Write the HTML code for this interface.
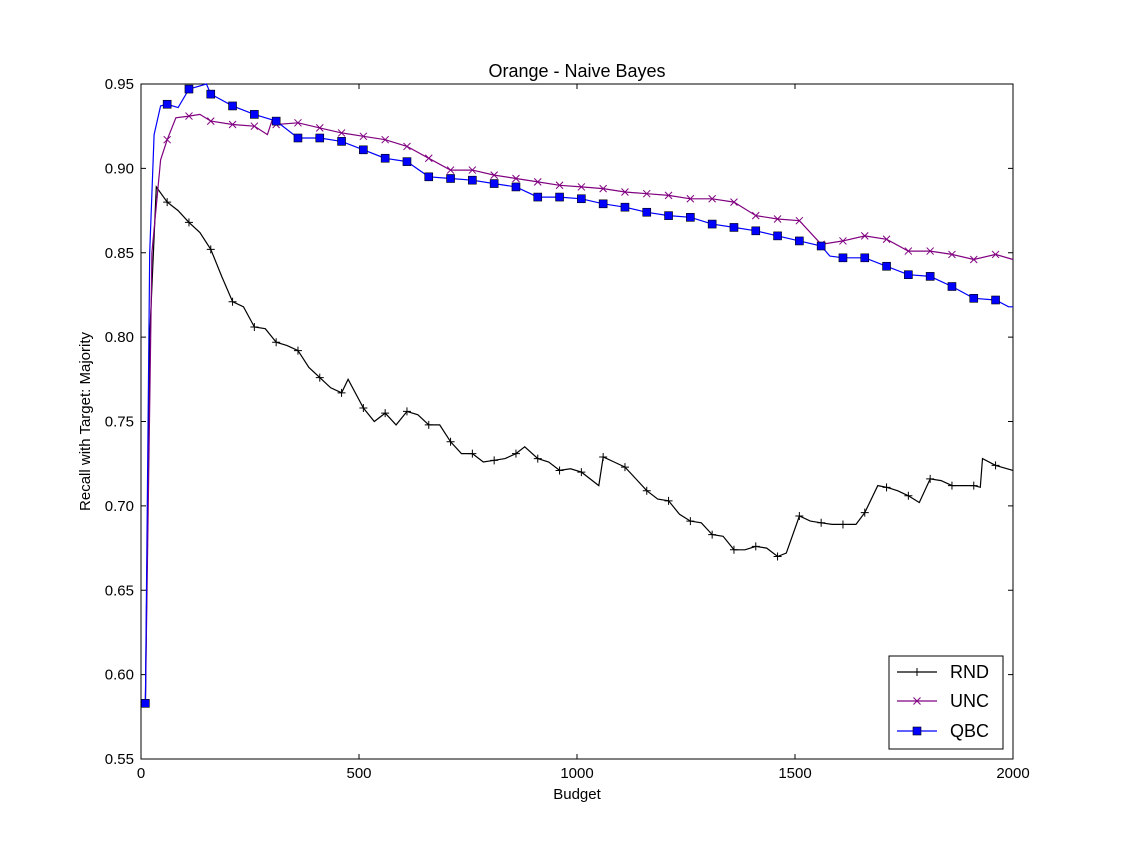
<!DOCTYPE html>
<html><head><meta charset="utf-8"><style>body{margin:0;background:#fff}svg{display:block;font-family:"Liberation Sans","DejaVu Sans",sans-serif}</style></head>
<body>
<svg id="chart" width="1125" height="843">
<rect width="1125" height="843" fill="#fff"/>
<g id="plot"></g>
</svg>
<script>
const xTicks=[0,500,1000,1500,2000];
const yTicks=[0.55,0.60,0.65,0.70,0.75,0.80,0.85,0.90,0.95];
const rndX=[10,20,35,60,85,110,135,160,185,210,235,260,285,310,335,360,385,410,435,460,475,510,535,560,585,610,635,660,685,710,735,760,785,810,835,860,880,910,935,960,985,1010,1050,1060,1085,1110,1135,1160,1185,1210,1235,1260,1285,1310,1335,1360,1385,1410,1435,1460,1480,1510,1535,1560,1585,1610,1640,1660,1690,1710,1735,1760,1785,1810,1835,1860,1885,1910,1925,1930,1960,2000];
const rndY=[0.583,0.80,0.889,0.880,0.875,0.868,0.862,0.852,0.836,0.821,0.818,0.806,0.805,0.797,0.795,0.792,0.782,0.776,0.770,0.767,0.775,0.758,0.750,0.755,0.748,0.756,0.754,0.748,0.748,0.738,0.731,0.731,0.726,0.727,0.728,0.731,0.735,0.728,0.726,0.721,0.722,0.720,0.712,0.729,0.726,0.723,0.716,0.709,0.704,0.703,0.695,0.691,0.690,0.683,0.682,0.674,0.674,0.676,0.675,0.670,0.672,0.694,0.691,0.690,0.689,0.689,0.689,0.696,0.712,0.711,0.709,0.706,0.702,0.716,0.715,0.712,0.712,0.712,0.711,0.728,0.724,0.721];
const uncX=[10,25,45,60,80,110,135,160,210,260,290,300,310,360,410,460,510,560,610,660,710,760,810,860,910,960,1010,1060,1110,1160,1210,1260,1310,1360,1410,1460,1510,1560,1610,1660,1710,1760,1810,1860,1910,1960,2000];
const uncY=[0.583,0.85,0.905,0.917,0.930,0.931,0.932,0.928,0.926,0.925,0.920,0.928,0.926,0.927,0.924,0.921,0.919,0.917,0.913,0.906,0.899,0.899,0.896,0.894,0.892,0.890,0.889,0.888,0.886,0.885,0.884,0.882,0.882,0.880,0.872,0.870,0.869,0.855,0.857,0.860,0.858,0.851,0.851,0.849,0.846,0.849,0.846];
const qbcX=[10,20,30,45,60,85,110,150,160,210,260,310,360,410,460,510,560,610,660,710,760,810,860,910,960,1010,1060,1110,1160,1210,1260,1310,1360,1410,1460,1510,1560,1580,1610,1660,1710,1760,1810,1860,1910,1960,1990,2000];
const qbcY=[0.583,0.85,0.92,0.937,0.938,0.936,0.947,0.950,0.944,0.937,0.932,0.928,0.918,0.918,0.916,0.911,0.906,0.904,0.895,0.894,0.893,0.891,0.889,0.883,0.883,0.882,0.879,0.877,0.874,0.872,0.871,0.867,0.865,0.863,0.860,0.857,0.854,0.848,0.847,0.847,0.842,0.837,0.836,0.830,0.823,0.822,0.818,0.818];
const L=141,R=1013,T=84,B=759;
const sx=v=>L+(v-0)/2000*(R-L);
const sy=v=>B-(v-0.55)/0.4*(B-T);
const NS="http://www.w3.org/2000/svg";
const g=document.getElementById('plot');
function mk(tag,attrs,parent){const e=document.createElementNS(NS,tag);for(const k in attrs)e.setAttribute(k,attrs[k]);(parent||g).appendChild(e);return e;}
const frame=mk('rect',{x:L,y:T,width:R-L,height:B-T,fill:'none',stroke:'#000','stroke-width':1});


xTicks.forEach(t=>{const x=sx(t);
mk('line',{x1:x,y1:B,x2:x,y2:B-5,stroke:'#000'});mk('line',{x1:x,y1:T,x2:x,y2:T+5,stroke:'#000'});
const tx=mk('text',{x:x,y:B+19,'text-anchor':'middle','font-size':15});tx.textContent=t;

});
yTicks.forEach(t=>{const y=sy(t);
mk('line',{x1:L,y1:y,x2:L+5,y2:y,stroke:'#000'});mk('line',{x1:R,y1:y,x2:R-5,y2:y,stroke:'#000'});
const tx=mk('text',{x:L-7,y:y+5,'text-anchor':'end','font-size':15});tx.textContent=t.toFixed(2);

});
function series(xs,ys,color,marker,name){
const d=xs.map((x,i)=>(i?'L':'M')+sx(x).toFixed(1)+','+sy(ys[i]).toFixed(1)).join('');
const p=mk('path',{d:d,fill:'none',stroke:color,'stroke-width':1.2});


xs.forEach((x,i)=>{if((x-10)%50!==0)return;drawMarker(sx(x),sy(ys[i]),color,marker,name);});}
function drawMarker(x,y,color,marker,name){let m;
if(marker==='plus'){m=mk('path',{d:`M${x-4},${y}H${x+4}M${x},${y-4}V${y+4}`,stroke:color,'stroke-width':1});}
else if(marker==='x'){m=mk('path',{d:`M${x-3.5},${y-3.5}L${x+3.5},${y+3.5}M${x-3.5},${y+3.5}L${x+3.5},${y-3.5}`,stroke:color,'stroke-width':1});}
else{m=mk('rect',{x:x-4,y:y-4,width:8,height:8,fill:'#0000ff',stroke:'#000','stroke-width':0.6});}


return m;}
series(rndX,rndY,'#000','plus','rnd');
series(uncX,uncY,'#800080','x','unc');
series(qbcX,qbcY,'#0000ff','square','qbc');
const title=mk('text',{x:(L+R)/2,y:77,'text-anchor':'middle','font-size':18});title.textContent='Orange - Naive Bayes';


const xl=mk('text',{x:(L+R)/2,y:799,'text-anchor':'middle','font-size':15});xl.textContent='Budget';


const yl=mk('text',{x:0,y:0,'text-anchor':'middle','font-size':15,transform:`translate(90,${(T+B)/2}) rotate(-90)`});yl.textContent='Recall with Target: Majority';


const lg=mk('g',{});


mk('rect',{x:889,y:656,width:114,height:93,fill:'#fff',stroke:'#000'},lg);
[['RND','#000','plus',672],['UNC','#800080','x',701],['QBC','#0000ff','square',731]].forEach(([n,c,m,y])=>{
mk('line',{x1:897,y1:y,x2:937,y2:y,stroke:c,'stroke-width':1.2},lg);
drawMarker(917,y,c,m,n.toLowerCase()+'-legend');
const t=mk('text',{x:950,y:y+6,'font-size':18},lg);t.textContent=n;

});
</script>
</body></html>
